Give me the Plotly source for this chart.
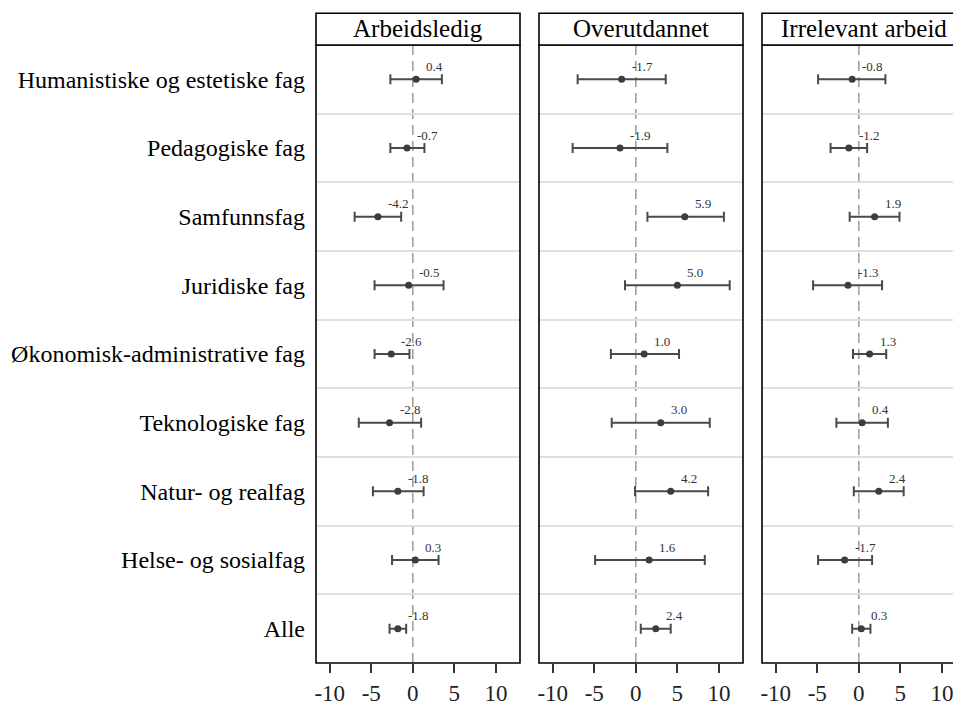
import plotly.graph_objects as go

categories = ["Humanistiske og estetiske fag", "Pedagogiske fag", "Samfunnsfag",
              "Juridiske fag", "Økonomisk-administrative fag", "Teknologiske fag",
              "Natur- og realfag", "Helse- og sosialfag", "Alle"]

panel_titles = ["Arbeidsledig", "Overutdannet", "Irrelevant arbeid"]

arb_est = [0.4, -0.7, -4.2, -0.5, -2.6, -2.8, -1.8, 0.3, -1.8]
arb_lo = [-2.7, -2.7, -7.0, -4.6, -4.6, -6.5, -4.8, -2.5, -2.8]
arb_hi = [3.5, 1.4, -1.4, 3.7, -0.4, 1.0, 1.3, 3.1, -0.8]

ove_est = [-1.7, -1.9, 5.9, 5.0, 1.0, 3.0, 4.2, 1.6, 2.4]
ove_lo = [-7.0, -7.6, 1.4, -1.3, -3.0, -2.9, -0.1, -4.9, 0.6]
ove_hi = [3.6, 3.8, 10.6, 11.3, 5.2, 8.9, 8.7, 8.3, 4.2]

irr_est = [-0.8, -1.2, 1.9, -1.3, 1.3, 0.4, 2.4, -1.7, 0.3]
irr_lo = [-4.9, -3.4, -1.1, -5.5, -0.7, -2.7, -0.6, -4.9, -0.8]
irr_hi = [3.2, 1.0, 4.9, 2.8, 3.3, 3.5, 5.4, 1.6, 1.4]

x_ticks = [-10, -5, 0, 5, 10]
x_ticktext = ["-10", "-5", "0", "5", "10"]

panels = [(arb_est, arb_lo, arb_hi), (ove_est, ove_lo, ove_hi), (irr_est, irr_lo, irr_hi)]

FONT = "Liberation Serif"
# page body has an 8px margin, so the figure is 8px smaller than the window
W, H = 953, 698
ML, MR, MT, MB = 308, 0, 37, 39
PW = W - ML - MR
PH = H - MT - MB
XMIN, XMAX = -11.65, 12.9
PX_PER_UNIT = 204 / (XMAX - XMIN)
domains = [[0, 204 / PW], [223 / PW, 427 / PW], [446 / PW, 1.0]]
ranges = [[XMIN, XMAX], [XMIN, XMAX], [XMIN, XMIN + (PW - 446) / PX_PER_UNIT]]

fig = go.Figure()
shapes = []
annotations = []

for i, (est, lo, hi) in enumerate(panels):
    xa = "x" if i == 0 else f"x{i+1}"
    ya = "y" if i == 0 else f"y{i+1}"
    fig.add_trace(go.Scatter(
        x=est, y=categories, xaxis=xa, yaxis=ya, mode="markers",
        marker=dict(color="#3c3c3c", size=7),
        error_x=dict(type="data", symmetric=False,
                     array=[h - e for h, e in zip(hi, est)],
                     arrayminus=[e - l for e, l in zip(est, lo)],
                     color="#4a4a4a", thickness=2, width=5),
        showlegend=False, hoverinfo="skip"))
    for e, c in zip(est, categories):
        annotations.append(dict(x=e, y=c, xref=xa, yref=ya, text=f"{e:.1f}",
                                showarrow=False, xanchor="left", yanchor="middle",
                                xshift=8, yshift=13,
                                font=dict(family=FONT, size=13, color="#333333")))
    right = 1.0 if i < 2 else 1.2
    # zero reference line
    shapes.append(dict(type="line", xref=xa, yref="paper", x0=0, x1=0, y0=0, y1=1,
                       line=dict(color="#9a9a9a", width=1.5, dash="10px,6px"), layer="below"))
    # panel border
    shapes.append(dict(type="rect", xref=f"{xa} domain", yref="paper",
                       x0=0, x1=right, y0=0, y1=1,
                       line=dict(color="black", width=1.6), layer="above"))
    # strip header
    shapes.append(dict(type="rect", xref=f"{xa} domain", yref="paper",
                       x0=0, x1=right, y0=1, y1=1 + 32 / PH,
                       fillcolor="white", line=dict(color="black", width=1.6), layer="above"))
    annotations.append(dict(x=(XMIN + XMAX) / 2, y=1 + 17 / PH, xref=xa,
                            yref="paper", text=panel_titles[i], showarrow=False,
                            xanchor="center", yanchor="middle",
                            font=dict(family=FONT, size=25, color="black")))

layout = dict(
    width=W, height=H, margin=dict(l=ML, r=MR, t=MT, b=MB),
    plot_bgcolor="white", paper_bgcolor="white",
    font=dict(family=FONT, size=22, color="black"),
    shapes=shapes, annotations=annotations,
)
for i in range(3):
    xk = "xaxis" if i == 0 else f"xaxis{i+1}"
    yk = "yaxis" if i == 0 else f"yaxis{i+1}"
    layout[xk] = dict(domain=domains[i], range=ranges[i], tickvals=x_ticks,
                      ticktext=x_ticktext,
                      ticks="outside", ticklen=9, tickwidth=1.5, tickcolor="#333333",
                      showgrid=False, zeroline=False, showline=False,
                      tickfont=dict(family=FONT, size=23, color="#222222"),
                      anchor="y" if i == 0 else f"y{i+1}")
    layout[yk] = dict(type="category", categoryorder="array", categoryarray=categories,
                      range=[len(categories) - 0.5, -0.5], tickson="boundaries",
                      showgrid=True, gridcolor="#e0e0e0", gridwidth=2,
                      ticks="", zeroline=False, showline=False,
                      showticklabels=(i == 0), ticklabelstandoff=10,
                      tickfont=dict(family=FONT, size=24, color="black"),
                      anchor="x" if i == 0 else f"x{i+1}")
    if i > 0:
        layout[yk]["matches"] = "y"

fig.update_layout(**layout)
fig.write_html("out.html")
